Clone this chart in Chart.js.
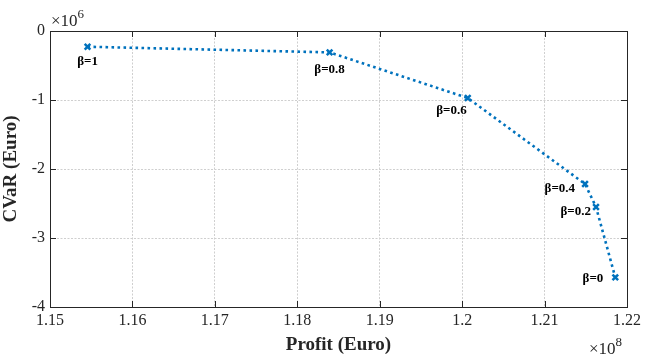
<!DOCTYPE html>
<html>
<head>
<meta charset="utf-8">
<script src="https://cdn.jsdelivr.net/npm/chart.js@4.4.1/dist/chart.umd.min.js"></script>
<style>
  html, body { margin: 0; padding: 0; background: #fff; }
  #wrap { width: 645px; height: 356px; position: relative; }
</style>
</head>
<body>
<div id="wrap"><canvas id="c" width="645" height="356"></canvas></div>
<script>
// Efficient frontier: expected profit vs. CVaR for each risk weight beta
const betaLabels = ['β=1', 'β=0.8', 'β=0.6', 'β=0.4', 'β=0.2', 'β=0'];
const profitEuro = [115455000, 118392000, 120068000, 121491000, 121624000, 121858000];
const cvarEuro   = [-228000, -310000, -971000, -2217000, -2551000, -3571000];
const xTicks = [1.15, 1.16, 1.17, 1.18, 1.19, 1.2, 1.21, 1.22];
const yTicks = [0, -1, -2, -3, -4];

const SERIF = '"Liberation Serif", "Times New Roman", serif';
const AXIS_COLOR = '#262626';
const LINE_COLOR = '#0072BD';

// label placement relative to each marker: [dx, dy, textAlign]
const labelPlacement = [
  [0, 15, 'center'],
  [0, 17, 'center'],
  [-1, 13, 'right'],
  [-10, 5, 'right'],
  [-5, 5, 'right'],
  [-12, 1, 'right']
];

const points = profitEuro.map((p, i) => ({ x: p, y: cvarEuro[i] }));

const frameAndLabels = {
  id: 'frameAndLabels',
  afterDatasetsDraw(chart) {
    const { ctx } = chart;
    ctx.save();
    // beta labels next to each marker
    ctx.fillStyle = '#000';
    ctx.font = 'bold 13px ' + SERIF;
    ctx.textBaseline = 'middle';
    const meta = chart.getDatasetMeta(0);
    meta.data.forEach((el, i) => {
      const [dx, dy, al] = labelPlacement[i];
      ctx.textAlign = al;
      ctx.fillText(betaLabels[i], el.x + dx, el.y + dy);
    });
    ctx.restore();
  },
  afterDraw(chart) {
    const { ctx, chartArea: a, scales } = chart;
    ctx.save();
    ctx.strokeStyle = AXIS_COLOR;
    ctx.lineWidth = 1;
    // box
    ctx.strokeRect(Math.round(a.left) + 0.5, Math.round(a.top) + 0.5,
                   Math.round(a.right - a.left), Math.round(a.bottom - a.top));
    // inward ticks on all four sides
    const tl = 6;
    ctx.beginPath();
    xTicks.forEach(v => {
      const x = Math.round(scales.x.getPixelForValue(v * 1e8)) + 0.5;
      ctx.moveTo(x, a.bottom); ctx.lineTo(x, a.bottom - tl);
      ctx.moveTo(x, a.top); ctx.lineTo(x, a.top + tl);
    });
    yTicks.forEach(v => {
      const y = Math.round(scales.y.getPixelForValue(v * 1e6)) + 0.5;
      ctx.moveTo(a.left, y); ctx.lineTo(a.left + tl, y);
      ctx.moveTo(a.right, y); ctx.lineTo(a.right - tl, y);
    });
    ctx.stroke();
    // exponent multipliers
    ctx.fillStyle = AXIS_COLOR;
    ctx.textBaseline = 'alphabetic';
    ctx.textAlign = 'left';
    const drawExp = (x, y, exp) => {
      const base = '×10';
      ctx.font = '17px ' + SERIF;
      ctx.fillText(base, x, y);
      const w = ctx.measureText(base).width;
      ctx.font = '13px ' + SERIF;
      ctx.fillText(exp, x + w, y - 8);
    };
    drawExp(a.left + 1, a.top - 5, '6');
    drawExp(a.right - 38, a.bottom + 47, '8');
    ctx.restore();
  }
};

new Chart(document.getElementById('c'), {
  type: 'scatter',
  data: {
    datasets: [{
      data: points,
      showLine: true,
      borderColor: LINE_COLOR,
      backgroundColor: LINE_COLOR,
      borderWidth: 2.6,
      borderDash: [2.6, 3.4],
      borderCapStyle: 'butt',
      tension: 0,
      pointStyle: 'crossRot',
      pointRadius: 4,
      pointBorderWidth: 2.5,
      pointBorderColor: LINE_COLOR,
      pointHoverRadius: 4
    }]
  },
  options: {
    responsive: false,
    animation: false,
    events: [],
    layout: { padding: { top: 31, right: 18, left: 0, bottom: 0 } },
    plugins: { legend: { display: false }, tooltip: { enabled: false } },
    scales: {
      x: {
        type: 'linear',
        min: xTicks[0] * 1e8,
        max: xTicks[xTicks.length - 1] * 1e8,
        afterBuildTicks(s) { s.ticks = xTicks.map(v => ({ value: v * 1e8 })); },
        afterFit(s) { s.height = 49; },
        ticks: {
          color: AXIS_COLOR,
          font: { family: SERIF, size: 16 },
          padding: 4,
          maxRotation: 0,
          autoSkip: false,
          callback: v => String(+(v / 1e8).toFixed(2))
        },
        grid: { color: '#cfcfcf', lineWidth: 1, drawTicks: false },
        border: { display: false, dash: [2, 1.5] },
        title: {
          display: true,
          text: 'Profit (Euro)',
          color: AXIS_COLOR,
          font: { family: SERIF, size: 19, weight: 'bold' },
          padding: { top: 2, bottom: 0 }
        }
      },
      y: {
        type: 'linear',
        min: yTicks[yTicks.length - 1] * 1e6,
        max: yTicks[0] * 1e6,
        afterBuildTicks(s) { s.ticks = yTicks.map(v => ({ value: v * 1e6 })); },
        afterFit(s) { s.width = 50; },
        ticks: {
          color: AXIS_COLOR,
          font: { family: SERIF, size: 16 },
          padding: 5,
          autoSkip: false,
          callback: v => String(Math.round(v / 1e6))
        },
        grid: { color: '#cfcfcf', lineWidth: 1, drawTicks: false },
        border: { display: false, dash: [2, 1.5] },
        title: {
          display: true,
          text: 'CVaR (Euro)',
          color: AXIS_COLOR,
          font: { family: SERIF, size: 19, weight: 'bold' },
          padding: { top: 0, bottom: 0 }
        }
      }
    }
  },
  plugins: [frameAndLabels]
});
</script>
</body>
</html>
